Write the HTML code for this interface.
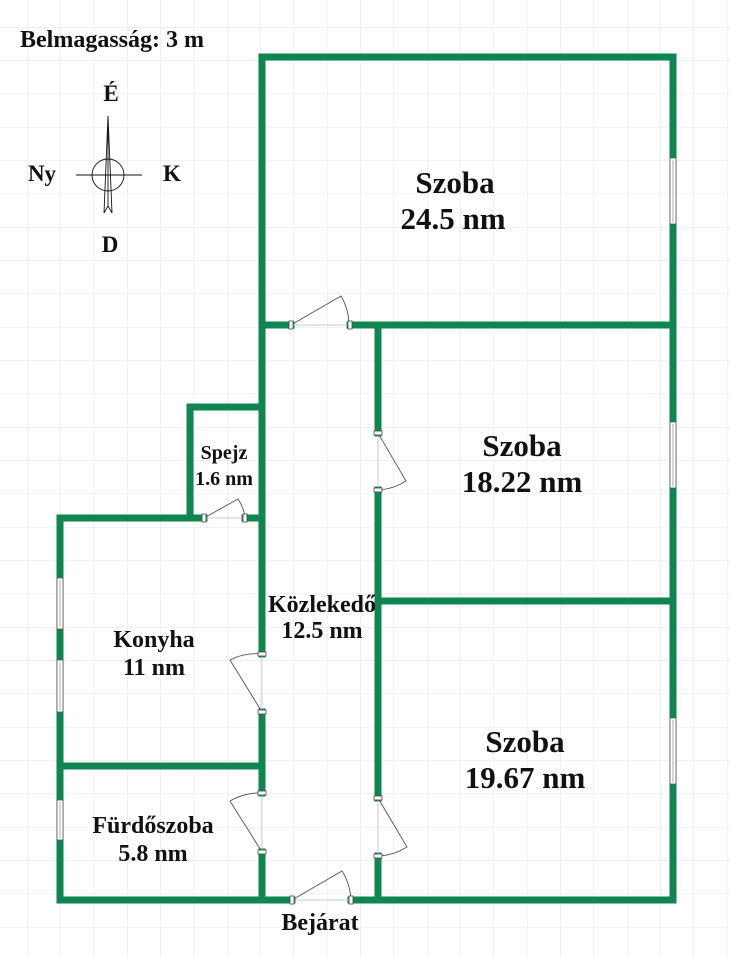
<!DOCTYPE html>
<html><head><meta charset="utf-8"><style>
html,body{margin:0;padding:0;background:#fff}
svg{display:block}
text{font-family:"Liberation Serif","Times New Roman",serif;font-weight:bold;fill:#111}
</style></head><body>
<svg width="730" height="958" viewBox="0 0 730 958" xmlns="http://www.w3.org/2000/svg">
<defs>
<pattern id="g" x="27" y="27" width="33.33" height="33.33" patternUnits="userSpaceOnUse">
<path d="M0 0H33.33M0 0V33.33" stroke="#dfe2e5" stroke-width="1" fill="none"/>
</pattern>
</defs>
<rect width="730" height="958" fill="url(#g)"/>
<g stroke="#0f8550" stroke-width="7" stroke-linecap="square" fill="none">
<path d="M262 57H673V900"/>
<path d="M262 57V654M262 712V793M262 852V900"/>
<path d="M262 325H291M350 325H673"/>
<path d="M378 325V433M378 490V798M378 856V900"/>
<path d="M378 601H673"/>
<path d="M60 900H292M351 900H673"/>
<path d="M60 518V900"/>
<path d="M60 518H204M245 518H262"/>
<path d="M190 407V518M190 407H262"/>
<path d="M60 766H262"/>
</g>
<g fill="#fff" stroke="#555" stroke-width="0.8">
<rect x="670" y="158" width="6" height="66"/>
<rect x="670" y="422" width="6" height="66"/>
<rect x="670" y="718" width="6" height="66"/>
<rect x="57" y="578" width="6" height="51"/>
<rect x="57" y="660" width="6" height="52"/>
<rect x="57" y="800" width="6" height="40"/>
</g>
<g stroke="#999" stroke-width="0.8">
<path d="M673 160V222M673 424V486M673 720V782M60 580V627M60 662V710M60 802V838"/>
</g>
<g fill="none" stroke="#555" stroke-width="0.9">
<path d="M291 325L341 296A58 58 0 0 1 349 325"/>
<path d="M204 518L238 499A41 41 0 0 1 245 518"/>
<path d="M378 433L406 481A57 57 0 0 1 378 490"/>
<path d="M262 712L230 660A58 58 0 0 1 262 654"/>
<path d="M262 852L230 801A59 59 0 0 1 262 793"/>
<path d="M378 798L407 847A58 58 0 0 1 378 856"/>
<path d="M292 900L342 871A59 59 0 0 1 351 900"/>
</g>
<g stroke="#bbb" stroke-width="0.8">
<path d="M291 325H350M204 518H245M378 433V490M262 654V712M262 793V852M378 798V856M292 900H351"/>
</g>
<g fill="#fff" stroke="#444" stroke-width="0.8">
<rect x="289" y="321" width="4" height="8"/><rect x="348" y="321" width="4" height="8"/>
<rect x="202" y="514" width="4" height="8"/><rect x="243" y="514" width="4" height="8"/>
<rect x="374" y="431" width="8" height="4"/><rect x="374" y="488" width="8" height="4"/>
<rect x="258" y="652" width="8" height="4"/><rect x="258" y="710" width="8" height="4"/>
<rect x="258" y="791" width="8" height="4"/><rect x="258" y="850" width="8" height="4"/>
<rect x="374" y="796" width="8" height="4"/><rect x="374" y="854" width="8" height="4"/>
<rect x="290" y="896" width="4" height="8"/><rect x="349" y="896" width="4" height="8"/>
</g>
<g fill="none" stroke="#111" stroke-width="0.9">
<circle cx="108" cy="175" r="16"/>
<path d="M76 175H142"/>
<path d="M108 116L104 213L108 206L112 213Z"/>
<path d="M108 116V206"/>
</g>
<text x="20" y="47" font-size="24">Belmagasság: 3 m</text>
<text x="111" y="101" font-size="23" text-anchor="middle">É</text>
<text x="42" y="181" font-size="23" text-anchor="middle">Ny</text>
<text x="172" y="181" font-size="23" text-anchor="middle">K</text>
<text x="110" y="252" font-size="23" text-anchor="middle">D</text>
<g text-anchor="middle">
<text x="455" y="193" font-size="31">Szoba</text>
<text x="453" y="229" font-size="31">24.5 nm</text>
<text x="522" y="456" font-size="31">Szoba</text>
<text x="522" y="492" font-size="31">18.22 nm</text>
<text x="525" y="752" font-size="31">Szoba</text>
<text x="525" y="788" font-size="31">19.67 nm</text>
<text x="322" y="612" font-size="24">Közlekedő</text>
<text x="322" y="638" font-size="24">12.5 nm</text>
<text x="154" y="647" font-size="24">Konyha</text>
<text x="154" y="675" font-size="24">11 nm</text>
<text x="153" y="833" font-size="24">Fürdőszoba</text>
<text x="153" y="861" font-size="24">5.8 nm</text>
<text x="224" y="459" font-size="20">Spejz</text>
<text x="224" y="485" font-size="20">1.6 nm</text>
<text x="320" y="930" font-size="24">Bejárat</text>
</g>
</svg>
</body></html>
